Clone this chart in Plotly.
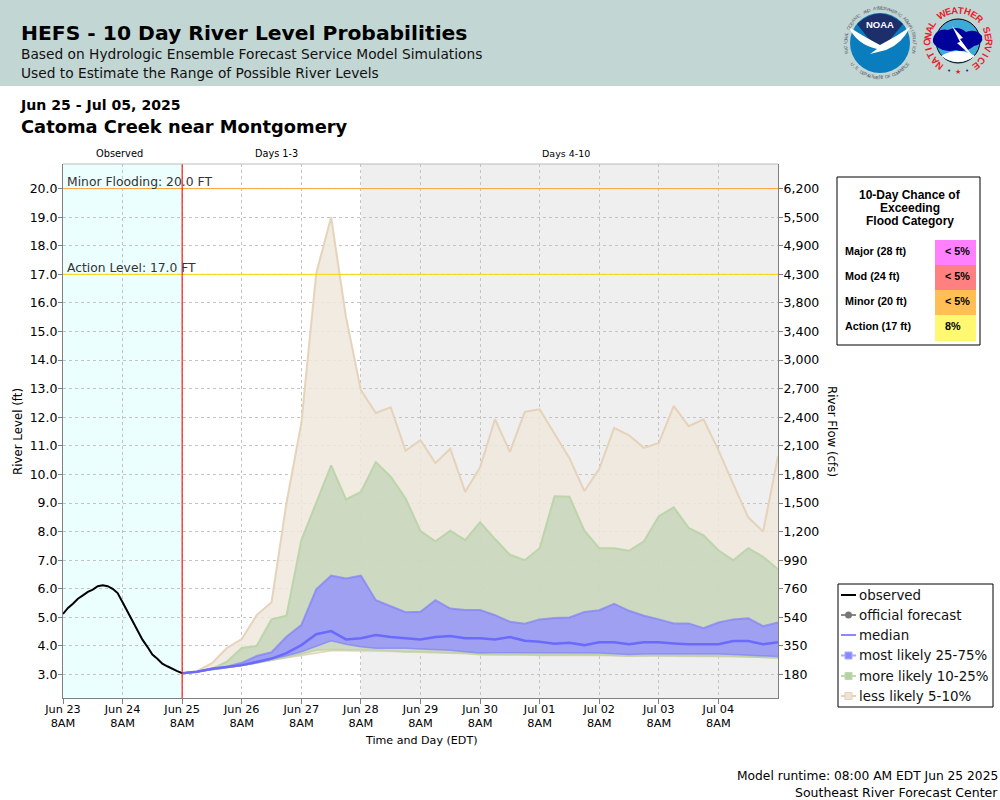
import math
import pandas as pd
import plotly.graph_objects as go

observed_stage = [5.12, 5.33, 5.48, 5.65, 5.77, 5.89, 5.97, 6.09, 6.12, 6.09, 6.0, 5.85, 5.53,
                  5.21, 4.89, 4.55, 4.22, 3.97, 3.7, 3.55, 3.38, 3.29, 3.2, 3.12, 3.05]

upper_5 = [3.05, 3.12, 3.4, 3.93, 4.24, 5.08, 5.53, 9.0, 11.8, 17.04, 19.0, 15.5, 12.95, 12.15,
           12.35, 10.83, 11.2, 10.4, 10.9, 9.39, 10.25, 11.93, 10.79, 12.19, 12.28, 11.43, 10.57,
           9.42, 10.2, 11.63, 11.37, 10.93, 11.1, 12.4, 11.69, 11.93, 10.85, 9.66, 8.5, 8.0, 10.64]
upper_10 = [3.05, 3.1, 3.2, 3.45, 3.93, 4.0, 4.93, 5.06, 7.7, 9.0, 10.32, 9.13, 9.39, 10.43, 9.92,
            9.16, 8.02, 7.66, 8.03, 7.7, 8.33, 7.74, 7.19, 7.0, 7.42, 9.24, 9.22, 8.03, 7.42, 7.42,
            7.33, 7.66, 8.54, 8.85, 8.13, 7.87, 7.35, 7.0, 7.42, 7.12, 6.68]
upper_25 = [3.05, 3.1, 3.2, 3.27, 3.41, 3.65, 3.78, 4.32, 4.73, 5.98, 6.46, 6.36, 6.46, 5.6, 5.39,
            5.18, 5.2, 5.6, 5.31, 5.26, 5.26, 5.08, 4.85, 4.78, 4.93, 4.98, 5.0, 5.19, 5.25, 5.47,
            5.23, 5.06, 4.93, 4.79, 4.79, 4.62, 4.82, 4.93, 4.97, 4.69, 4.82]
median = [3.05, 3.1, 3.2, 3.27, 3.33, 3.44, 3.56, 3.75, 4.03, 4.41, 4.52, 4.23, 4.27, 4.38, 4.31,
          4.27, 4.23, 4.31, 4.35, 4.27, 4.27, 4.23, 4.31, 4.18, 4.15, 4.08, 4.11, 4.03, 4.13, 4.13,
          4.06, 4.13, 4.13, 4.09, 4.06, 4.06, 4.06, 4.17, 4.17, 4.06, 4.13]
lower_25 = [3.05, 3.1, 3.18, 3.25, 3.32, 3.42, 3.53, 3.66, 3.8, 4.0, 4.18, 4.06, 3.97, 3.92, 3.92,
            3.92, 3.89, 3.87, 3.85, 3.8, 3.75, 3.76, 3.76, 3.74, 3.74, 3.74, 3.75, 3.76, 3.75, 3.73,
            3.7, 3.72, 3.73, 3.72, 3.72, 3.73, 3.72, 3.7, 3.68, 3.66, 3.63]
lower_10 = [3.05, 3.1, 3.17, 3.24, 3.31, 3.4, 3.5, 3.6, 3.72, 3.85, 3.88, 3.87, 3.87, 3.86, 3.83,
            3.8, 3.8, 3.79, 3.78, 3.75, 3.7, 3.7, 3.71, 3.69, 3.68, 3.68, 3.7, 3.7, 3.69, 3.67,
            3.65, 3.66, 3.67, 3.66, 3.65, 3.66, 3.66, 3.64, 3.62, 3.6, 3.58]
lower_5 = [3.05, 3.1, 3.17, 3.24, 3.31, 3.4, 3.5, 3.58, 3.65, 3.75, 3.83, 3.83, 3.83, 3.83, 3.81,
           3.79, 3.78, 3.77, 3.76, 3.73, 3.69, 3.69, 3.7, 3.68, 3.67, 3.67, 3.69, 3.69, 3.67, 3.66,
           3.64, 3.65, 3.66, 3.64, 3.64, 3.64, 3.64, 3.62, 3.61, 3.59, 3.58]

stage_ticks = [3, 4, 5, 6, 7, 8, 9, 10, 11, 12, 13, 14, 15, 16, 17, 18, 19, 20]
stage_labels = [f"{s:.1f}" for s in stage_ticks]
flow_labels = ["180", "350", "540", "760", "990", "1,200", "1,500", "1,800", "2,100", "2,400",
               "2,700", "3,000", "3,400", "3,800", "4,300", "4,900", "5,500", "6,200"]
day_ticks = ["2025-06-23 08:00", "2025-06-24 08:00", "2025-06-25 08:00", "2025-06-26 08:00",
             "2025-06-27 08:00", "2025-06-28 08:00", "2025-06-29 08:00", "2025-06-30 08:00",
             "2025-07-01 08:00", "2025-07-02 08:00", "2025-07-03 08:00", "2025-07-04 08:00"]
day_labels = ["Jun 23<br>8AM", "Jun 24<br>8AM", "Jun 25<br>8AM", "Jun 26<br>8AM", "Jun 27<br>8AM",
              "Jun 28<br>8AM", "Jun 29<br>8AM", "Jun 30<br>8AM", "Jul 01<br>8AM", "Jul 02<br>8AM",
              "Jul 03<br>8AM", "Jul 04<br>8AM"]

categories = ["Major (28 ft)", "Mod (24 ft)", "Minor (20 ft)", "Action (17 ft)"]
chances = ["< 5%", "< 5%", "< 5%", "8%"]
chance_colors = ["#FF80FF", "#FF8080", "#FFBF55", "#FFF870"]
legend_names = ["observed", "official forecast", "median", "most likely 25-75%", "more likely 10-25%", "less likely 5-10%"]

observed_times = pd.date_range("2025-06-23 08:00", periods=len(observed_stage), freq="2h")
forecast_times = pd.date_range("2025-06-25 08:00", periods=len(median), freq="6h")
x_start, x_now, x_days4, x_end = "2025-06-23 08:00", "2025-06-25 08:00", "2025-06-28 08:00", "2025-07-05 08:00"

L, R, T, B = 63, 778, 164, 698


# page pixels to paper coordinates
def px(x):
    return (x - L) / (R - L)


def py(y):
    return (B - y) / (B - T)


def note(x, y, text, size=12, color="#000000", family="DejaVu Sans", anchor="left", angle=0):
    fig.add_annotation(xref="paper", yref="paper", x=px(x), y=py(y), text=text, showarrow=False,
                       xanchor=anchor, yanchor="middle", align=anchor, textangle=angle,
                       font=dict(size=size, color=color, family=family), borderpad=0, borderwidth=0)


def rect(x0, y0, x1, y1, fill=None, line=None, width=1):
    fig.add_shape(type="rect", xref="paper", yref="paper", x0=px(x0), y0=py(y0), x1=px(x1), y1=py(y1),
                  fillcolor=fill, line=dict(color=line, width=width if line else 0), layer="above")


def seg(x0, y0, x1, y1, color, width=1):
    fig.add_shape(type="line", xref="paper", yref="paper", x0=px(x0), y0=py(y0), x1=px(x1), y1=py(y1),
                  line=dict(color=color, width=width), layer="above")


def circle(cx, cy, r, fill, line=None):
    fig.add_shape(type="circle", xref="paper", yref="paper", x0=px(cx - r), y0=py(cy - r), x1=px(cx + r),
                  y1=py(cy + r), fillcolor=fill, line=dict(color=line, width=1 if line else 0), layer="above")


def blob(cmds, fill):
    # cmds are (letter, x, y, ...) in page pixels
    parts = []
    for c in cmds:
        pts = c[1:]
        xy = [f"{px(pts[i]):.5f},{py(pts[i + 1]):.5f}" for i in range(0, len(pts), 2)]
        parts.append(c[0] + " ".join(xy))
    fig.add_shape(type="path", xref="paper", yref="paper", path=" ".join(parts) + " Z",
                  fillcolor=fill, line=dict(width=0), layer="above")


def ring_text(cx, cy, r, text, start, end, size, color, bold=True, flip=False):
    step = (end - start) / (len(text) - 1)
    for i, ch in enumerate(text):
        if ch == " ":
            continue
        a = start + i * step
        label = f"<b>{ch}</b>" if bold else ch
        note(cx + r * math.sin(math.radians(a)), cy - r * math.cos(math.radians(a)), label, size=size,
             color=color, family="Liberation Sans", anchor="center", angle=a - 180 if flip else a)


fig = go.Figure()

# ensemble bands
bands = [(lower_5, upper_5, "rgba(228,207,181,0.9)", "rgba(239,231,220,0.85)"),
         (lower_10, upper_10, "rgba(186,212,168,0.95)", "rgba(196,212,184,0.8)"),
         (lower_25, upper_25, "rgba(128,128,248,0.7)", "rgba(149,145,255,0.8)")]
for low, high, line_color, fill_color in bands:
    fig.add_trace(go.Scatter(x=forecast_times, y=low, mode="lines", line=dict(color=line_color, width=1.5),
                             showlegend=False, hoverinfo="skip"))
    fig.add_trace(go.Scatter(x=forecast_times, y=high, mode="lines", line=dict(color=line_color, width=2),
                             fill="tonexty", fillcolor=fill_color, showlegend=False))

fig.add_trace(go.Scatter(x=forecast_times, y=median, mode="lines", name="median",
                         line=dict(color="#6A6AFF", width=2.5), showlegend=False))
fig.add_trace(go.Scatter(x=observed_times, y=observed_stage, mode="lines", name="observed",
                         line=dict(color="#000000", width=2), showlegend=False))
# carries the right hand axis
fig.add_trace(go.Scatter(x=[None], y=[None], yaxis="y2", showlegend=False, hoverinfo="skip"))

# shaded periods
fig.add_shape(type="rect", xref="x", yref="paper", x0=x_start, x1=x_now, y0=0, y1=1,
              fillcolor="#ECFFFF", line=dict(width=0), layer="below")
fig.add_shape(type="rect", xref="x", yref="paper", x0=x_days4, x1=x_end, y0=0, y1=1,
              fillcolor="#EFEFEF", line=dict(width=0), layer="below")

# flood levels and forecast start
fig.add_shape(type="line", xref="paper", yref="y", x0=0, x1=1, y0=20, y1=20, line=dict(color="#FFA533", width=1))
fig.add_shape(type="line", xref="paper", yref="y", x0=0, x1=1, y0=17, y1=17, line=dict(color="#FFD700", width=1))
fig.add_shape(type="line", xref="x", yref="paper", x0=x_now, x1=x_now, y0=0, y1=1, line=dict(color="#FF1A1A", width=1.2))
seg(L, T, R, T, "#BBBBBB")

note(67, 181.5, "Minor Flooding: 20.0 FT", size=12.35, color="#333333")
note(67, 267.5, "Action Level: 17.0 FT", size=12.3, color="#333333")
note(96, 154, "Observed", size=9.8)
note(276.5, 154, "Days 1-3", size=9.7, anchor="center")
note(566, 154, "Days 4-10", size=9.5, anchor="center")
note(18, 431, "River Level (ft)", size=11.8, anchor="center", angle=-90)
note(832, 431, "River Flow (cfs)", size=11.8, anchor="center", angle=90)
note(421, 740, "Time and Day (EDT)", size=11.1, anchor="center")

# header band
rect(0, 0, 1000, 86, fill="#C2D6D4")
note(21, 33, "<b>HEFS - 10 Day River Level Probabilities</b>", size=20.3)
note(21, 54, "Based on Hydrologic Ensemble Forecast Service Model Simulations", size=13.75, color="#111111")
note(21, 73, "Used to Estimate the Range of Possible River Levels", size=13.75, color="#111111")
note(20, 105, "<b>Jun 25 - Jul 05, 2025</b>", size=14.1)
note(21, 126, "<b>Catoma Creek near Montgomery</b>", size=17.85)
note(998, 776, "Model runtime: 08:00 AM EDT Jun 25 2025", size=12.25, anchor="right")
note(998, 792, "Southeast River Forecast Center", size=12.5, anchor="right")

# NOAA logo
circle(880, 43, 30, "#0A7DBF")
blob([("M", 857, 24), ("Q", 880, 3, 903, 24), ("L", 893, 36), ("L", 883, 48), ("L", 868, 38)], "#1C2F6B")
blob([("M", 849, 27), ("Q", 866, 38, 880, 45), ("Q", 896, 37, 910, 27), ("Q", 902, 44, 886, 50),
      ("L", 870, 54), ("L", 877, 49), ("Q", 856, 44, 849, 27)], "#FFFFFF")
note(880, 25, "<b>NOAA</b>", size=9.5, color="#FFFFFF", family="Liberation Sans", anchor="center")
ring_text(880, 43, 34.5, "NATIONAL OCEANIC AND ATMOSPHERIC ADMINISTRATION", -105, 105, 4.5, "#555566", False)
ring_text(880, 43, 34.5, "U.S. DEPARTMENT OF COMMERCE", 232, 128, 4.5, "#555566", False, True)

# NWS logo
circle(958, 41, 22, "#3FA9D8", "#000000")
blob([("M", 941, 56), ("Q", 958, 46, 975, 56), ("Q", 958, 68, 941, 56)], "#FFFFFF")
blob([("M", 934, 36), ("Q", 938, 28, 948, 30), ("Q", 958, 25, 966, 32), ("Q", 976, 28, 982, 36),
      ("Q", 984, 44, 974, 46), ("Q", 966, 53, 956, 50), ("Q", 944, 53, 936, 46), ("Q", 931, 42, 934, 36)], "#00009B")
blob([("M", 952, 26), ("L", 963, 38), ("L", 960, 39), ("L", 974, 58), ("L", 957, 43), ("L", 960, 42)], "#FFFFFF")
ring_text(958, 41, 31, "NATIONAL WEATHER SERVICE", -143, 143, 9.5, "#E8202A")
note(958, 72, "<b>★</b>", size=7, color="#E8202A", anchor="center")
note(949, 71, "•", size=7, color="#1C2F9B", anchor="center")
note(967, 71, "•", size=7, color="#1C2F9B", anchor="center")

# flood category table
rect(837, 177, 980, 345, fill="#FFFFFF", line="#000000")
note(910, 195, "<b>10-Day Chance of</b>", size=12, family="Liberation Sans", anchor="center")
note(910, 208, "<b>Exceeding</b>", size=12, family="Liberation Sans", anchor="center")
note(910, 221, "<b>Flood Category</b>", size=12, family="Liberation Sans", anchor="center")
for i, (cat, chance, color) in enumerate(zip(categories, chances, chance_colors)):
    top = 240 + i * 25
    rect(935, top, 976, top + 25 + (1 if i == 3 else 0), fill=color)
    note(845, top + 11, f"<b>{cat}</b>", size=10.8, family="Liberation Sans")
    note(945, top + 11, f"<b>{chance}</b>", size=10.8, family="Liberation Sans")

# legend box, drawn by hand so the keys stay as short as in the original
rect(838, 584, 993, 707, fill="#FFFFFF", line="#000000")
legend_rows = [595, 615, 635, 655.5, 676, 696]
legend_lines = ["#000000", "#888888", "#8888FF", "#AAAAFF", "#BFD9B0", "#E6D2BA"]
for name, row, lc in zip(legend_names, legend_rows, legend_lines):
    seg(841, row, 856, row, lc, 2)
    note(859, row, name, size=13.4, color="#111111")
circle(848.5, legend_rows[1], 3.5, "#777777")
rect(845, legend_rows[3] - 3.5, 852, legend_rows[3] + 3.5, fill="#8888FF", line="#AAAAFF")
rect(845, legend_rows[4] - 3.5, 852, legend_rows[4] + 3.5, fill="#B5D2A5", line="#BFD9B0")
rect(845, legend_rows[5] - 3.5, 852, legend_rows[5] + 3.5, fill="#EFE3D5", line="#E6D2BA")

fig.update_layout(
    width=1000,
    height=800,
    margin=dict(l=L, r=1000 - R, t=T, b=800 - B, autoexpand=False),
    paper_bgcolor="#FFFFFF",
    plot_bgcolor="#FFFFFF",
    showlegend=False,
    font=dict(family="DejaVu Sans", color="#000000"),
    xaxis=dict(type="date", range=[x_start, x_end], tickmode="array", tickvals=day_ticks, ticktext=day_labels,
               tickangle=0, tickfont=dict(size=11.3), ticks="outside", ticklen=5, tickcolor="#808080",
               ticklabelstandoff=-5, showgrid=True, gridcolor="#C4C4C4", griddash="3px,3px", gridwidth=1,
               showline=True, linecolor="#808080", linewidth=1, zeroline=False),
    yaxis=dict(range=[2.18, 20.86], tickmode="array", tickvals=stage_ticks, ticktext=stage_labels,
               tickfont=dict(size=12.5), ticks="outside", ticklen=4, tickcolor="#808080", ticklabelstandoff=-2,
               showgrid=True, gridcolor="#C4C4C4", griddash="3px,3px", gridwidth=1,
               showline=True, linecolor="#808080", linewidth=1, zeroline=False),
    yaxis2=dict(range=[2.18, 20.86], overlaying="y", side="right", tickmode="array", tickvals=stage_ticks,
                ticktext=flow_labels, tickfont=dict(size=12.5), ticks="outside", ticklen=4, tickcolor="#808080",
                ticklabelstandoff=-2, showgrid=False, showline=True, linecolor="#808080", linewidth=1, zeroline=False),
)

fig.write_html("out.html", config={"displayModeBar": False},
               post_script="document.body.style.margin='0';document.documentElement.style.overflow='hidden';")
